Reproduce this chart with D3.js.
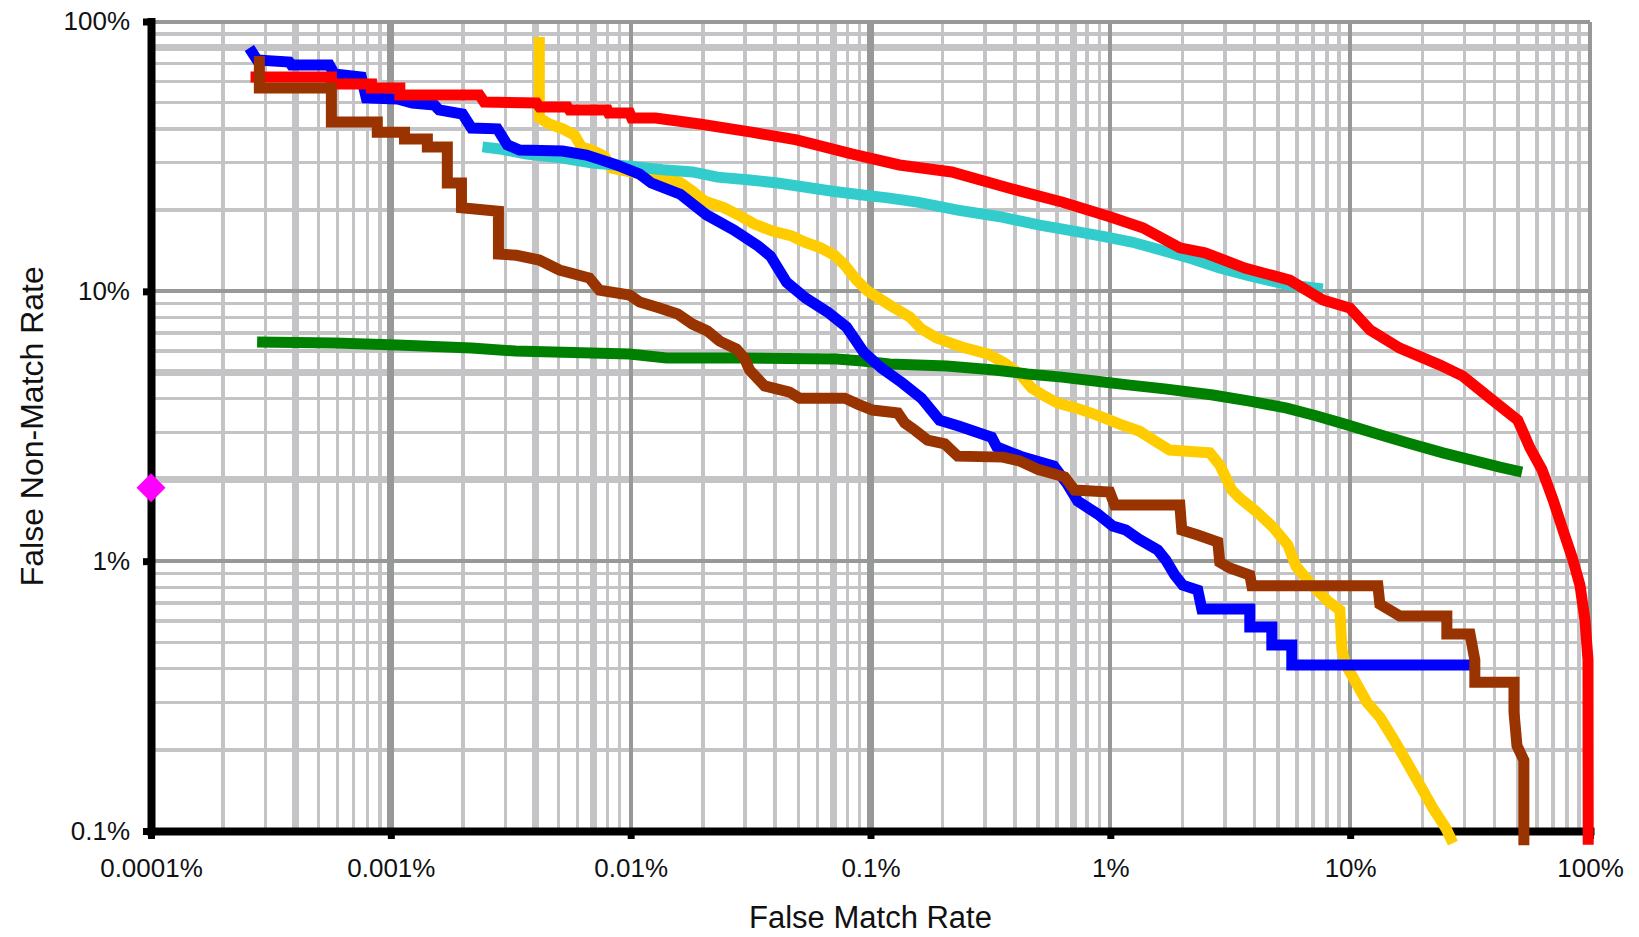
<!DOCTYPE html>
<html>
<head>
<meta charset="utf-8">
<script src="https://cdn.jsdelivr.net/npm/d3@7"></script>
<style>
  html, body { margin: 0; padding: 0; background: #fff; }
  svg { display: block; }
  text { font-family: "Liberation Sans", Arial, sans-serif; }
</style>
</head>
<body>
<script>
// values in percent
const xTicks = [1e-4, 1e-3, 1e-2, 1e-1, 1, 10, 100];
const xTickLabels = ["0.0001%", "0.001%", "0.01%", "0.1%", "1%", "10%", "100%"];
const yTicks = [0.1, 1, 10, 100];
const yTickLabels = ["0.1%", "1%", "10%", "100%"];

const redFmr = [0.00026, 0.000565, 0.000565, 0.00083, 0.00083, 0.00109, 0.00109, 0.00234, 0.00245, 0.00405, 0.00417, 0.00545, 0.00556, 0.0080, 0.0081, 0.0099, 0.0101, 0.0127, 0.0194, 0.0319, 0.0492, 0.0834, 0.132, 0.218, 0.38, 0.633, 0.995, 1.365, 1.949, 2.48, 3.64, 5.6, 7.69, 9.97, 12.1, 16.1, 23.7, 29.5, 38.3, 50.0, 56.2, 63.1, 70.2, 77.2, 84.2, 90.8, 95.3, 98.1, 98.3];
const redFnmr = [62.3, 62.3, 58.7, 58.7, 56.7, 56.7, 53.4, 53.4, 50.3, 49.9, 48.2, 48.2, 47.0, 47.0, 45.8, 45.8, 43.9, 43.9, 41.7, 38.9, 36.4, 32.3, 29.4, 27.7, 24.1, 21.4, 18.9, 17.2, 14.5, 13.9, 12.2, 11.0, 9.29, 8.67, 7.19, 6.16, 5.33, 4.85, 4.02, 3.33, 2.63, 2.18, 1.685, 1.30, 1.035, 0.815, 0.605, 0.43, 0.089];

const blueFmr = [0.000257, 0.000277, 0.000377, 0.000385, 0.000554, 0.000581, 0.000753, 0.00079, 0.001065, 0.00123, 0.00152, 0.00159, 0.00199, 0.00217, 0.00278, 0.00306, 0.00344, 0.0052, 0.00654, 0.00755, 0.00873, 0.0109, 0.0122, 0.0161, 0.0207, 0.0269, 0.0341, 0.0383, 0.0447, 0.0536, 0.0662, 0.0795, 0.0936, 0.111, 0.136, 0.163, 0.194, 0.233, 0.32, 0.336, 0.431, 0.581, 0.658, 0.731, 0.886, 1.023, 1.16, 1.314, 1.577, 1.702, 1.857, 2.005, 2.316, 2.406, 3.815, 3.815, 4.714, 4.714, 5.71, 5.71, 32.2];
const blueFnmr = [79.8, 72.0, 70.8, 69.0, 69.0, 63.9, 62.3, 52.1, 51.6, 49.9, 49.0, 47.0, 45.4, 40.3, 40.0, 34.9, 33.4, 33.1, 32.0, 30.7, 29.4, 27.2, 25.2, 22.9, 19.2, 16.9, 14.7, 13.5, 10.8, 9.45, 8.38, 7.37, 5.96, 5.20, 4.57, 4.02, 3.33, 3.17, 2.88, 2.65, 2.43, 2.25, 1.946, 1.67, 1.495, 1.349, 1.304, 1.207, 1.10, 1.01, 0.888, 0.815, 0.781, 0.665, 0.665, 0.57, 0.57, 0.489, 0.489, 0.412, 0.412];

const brownFmr = [0.000283, 0.000283, 0.000565, 0.000565, 0.000878, 0.000878, 0.00114, 0.00114, 0.00142, 0.00142, 0.00172, 0.00172, 0.00197, 0.00197, 0.00281, 0.00281, 0.00334, 0.00416, 0.00505, 0.00673, 0.00741, 0.00989, 0.0109, 0.0132, 0.0157, 0.0181, 0.0209, 0.0235, 0.0276, 0.0298, 0.0313, 0.0362, 0.046, 0.0506, 0.078, 0.0884, 0.102, 0.13, 0.139, 0.153, 0.173, 0.204, 0.231, 0.356, 0.419, 0.498, 0.645, 0.71, 0.994, 1.043, 1.949, 1.986, 2.316, 2.805, 2.86, 3.149, 3.815, 3.89, 13.05, 13.3, 16.1, 25.3, 25.3, 31.6, 33.1, 33.1, 48.2, 48.2, 49.6, 53.0, 53.0];
const brownFnmr = [74.5, 56.7, 56.7, 42.4, 42.4, 38.9, 38.9, 36.7, 36.7, 34.3, 34.3, 25.2, 25.2, 20.4, 19.8, 13.75, 13.6, 13.06, 12.0, 11.2, 10.1, 9.69, 9.13, 8.67, 8.24, 7.56, 7.13, 6.54, 6.11, 5.66, 5.11, 4.46, 4.23, 4.02, 4.02, 3.82, 3.63, 3.54, 3.25, 3.06, 2.81, 2.72, 2.45, 2.43, 2.35, 2.19, 2.05, 1.834, 1.803, 1.614, 1.614, 1.304, 1.25, 1.177, 0.992, 0.943, 0.888, 0.811, 0.811, 0.693, 0.626, 0.626, 0.537, 0.537, 0.43, 0.356, 0.356, 0.276, 0.207, 0.183, 0.0886];

const yellowFmr = [0.00416, 0.00416, 0.00458, 0.0052, 0.00583, 0.00623, 0.00686, 0.00778, 0.00832, 0.012, 0.016, 0.0181, 0.0203, 0.0246, 0.029, 0.0328, 0.039, 0.0469, 0.0531, 0.0619, 0.0708, 0.078, 0.0875, 0.0972, 0.12, 0.146, 0.163, 0.189, 0.24, 0.308, 0.363, 0.419, 0.47, 0.532, 0.603, 0.724, 0.903, 1.094, 1.326, 1.532, 1.769, 2.598, 2.86, 3.21, 3.465, 4.043, 4.76, 5.50, 5.94, 6.92, 8.07, 9.06, 9.24, 9.60, 10.26, 11.74, 13.3, 15.07, 17.24, 19.53, 22.13, 25.07, 26.82];
const yellowFnmr = [87.6, 43.9, 41.7, 40.0, 37.96, 34.3, 33.4, 31.7, 28.6, 26.8, 25.4, 23.5, 21.6, 20.4, 18.9, 17.76, 16.73, 16.03, 15.23, 14.5, 13.6, 12.52, 11.0, 10.03, 8.90, 8.03, 7.25, 6.71, 6.22, 5.86, 5.42, 4.94, 4.38, 4.09, 3.855, 3.69, 3.45, 3.22, 3.03, 2.79, 2.58, 2.52, 2.27, 1.834, 1.713, 1.533, 1.338, 1.147, 0.959, 0.815, 0.711, 0.659, 0.468, 0.412, 0.372, 0.30, 0.2644, 0.221, 0.180, 0.148, 0.1215, 0.1024, 0.0902];

const cyanFmr = [0.00241, 0.00284, 0.00368, 0.0052, 0.00693, 0.00989, 0.0136, 0.0181, 0.023, 0.0307, 0.041, 0.0521, 0.0695, 0.0927, 0.118, 0.157, 0.231, 0.346, 0.508, 0.633, 0.921, 1.228, 1.638, 2.186, 2.86, 3.815, 5.60, 7.69];
const cyanFnmr = [34.3, 33.7, 32.3, 31.2, 29.9, 29.1, 28.2, 27.7, 26.5, 25.9, 25.2, 24.4, 23.5, 22.75, 22.2, 21.4, 20.0, 18.9, 17.6, 17.0, 16.03, 15.23, 14.2, 13.2, 12.2, 11.4, 10.55, 10.2];

const greenFmr = [0.000277, 0.000581, 0.001065, 0.00217, 0.00331, 0.00989, 0.0141, 0.0284, 0.0722, 0.0927, 0.12, 0.208, 0.329, 0.452, 0.627, 0.861, 1.182, 1.687, 2.675, 3.815, 5.445, 7.26, 9.50, 12.68, 17.41, 24.36, 32.2, 42.1, 52.05];
const greenFnmr = [6.49, 6.43, 6.32, 6.16, 6.01, 5.86, 5.66, 5.66, 5.61, 5.52, 5.38, 5.29, 5.11, 4.94, 4.81, 4.65, 4.50, 4.35, 4.13, 3.92, 3.69, 3.45, 3.22, 2.98, 2.74, 2.52, 2.37, 2.23, 2.14];

const markerFmr = [0.0001];
const markerFnmr = [1.87];

const width = 1639
const height = 937
const margin = ({top: 21.5, right: 49, bottom: 106, left: 151})

// gridlines that came out heavier in the original picture
const heavyX = [4e-4, 1e-3, 4e-3, 7e-3, 7e-2, 1e-1, 0.7]
const heavyY = [80, 5, 2]

x = d3.scaleLog()
    .domain([1e-4, 100])
    .range([margin.left, width - margin.right])

y = d3.scaleLog()
    .domain([0.1, 100])
    .range([height - margin.bottom, margin.top])

const isMajor = v => Math.abs(Math.log10(v) - Math.round(Math.log10(v))) < 1e-6
const inList = (v, list) => list.some(b => Math.abs(v / b - 1) < 1e-6)

const svg = d3.select("body").append("svg")
    .attr("width", width)
    .attr("height", height)
    .attr("viewBox", [0, 0, width, height]);

// grid: light minor lines first, darker decade lines on top
const grid = svg.append("g").attr("shape-rendering", "crispEdges")
const gridPass = major => {
  grid.append("g").selectAll("line")
    .data(y.ticks().filter(d => isMajor(d) === major))
    .join("line")
      .attr("x1", x.range()[0]).attr("x2", x.range()[1])
      .attr("y1", d => y(d)).attr("y2", d => y(d))
      .attr("stroke", major ? "#979997" : "#c4c4c7")
      .attr("stroke-width", d => inList(d, heavyY) ? 7 : major ? 4 : 3.5)
  grid.append("g").selectAll("line")
    .data(x.ticks().filter(d => isMajor(d) === major))
    .join("line")
      .attr("x1", d => x(d)).attr("x2", d => x(d))
      .attr("y1", y.range()[1]).attr("y2", y.range()[0])
      .attr("stroke", major ? "#979997" : "#c4c4c7")
      .attr("stroke-width", d => inList(d, heavyX) ? 7 : major ? 4 : 3.5)
}
gridPass(false)
gridPass(true)

// axes
xAxis = g => g
    .attr("transform", `translate(0,${y.range()[0]})`)
    .call(d3.axisBottom(x).tickValues(xTicks).tickFormat((d, i) => xTickLabels[i])
      .tickSize(8).tickSizeOuter(0).tickPadding(20))

yAxis = g => g
    .attr("transform", `translate(${x.range()[0]},0)`)
    .call(d3.axisLeft(y).tickValues(yTicks).tickFormat((d, i) => yTickLabels[i])
      .tickSize(8).tickSizeOuter(0).tickPadding(13))

const styleAxis = g => {
  g.attr("color", "#000").attr("font-size", 26).attr("font-family", null)
  g.select(".domain").attr("stroke-width", 8).attr("stroke-linecap", "square")
  g.selectAll(".tick line").attr("stroke-width", 7)
  g.selectAll(".tick text").attr("fill", "#111")
}

svg.append("g").call(yAxis).call(styleAxis);
svg.append("g").call(xAxis).call(styleAxis);

// axis titles
svg.append("text")
    .attr("x", (x.range()[0] + x.range()[1]) / 2)
    .attr("y", 928)
    .attr("text-anchor", "middle")
    .attr("font-size", 31)
    .attr("fill", "#111")
    .text("False Match Rate");

svg.append("text")
    .attr("transform", `translate(43,${(y.range()[0] + y.range()[1]) / 2}) rotate(-90)`)
    .attr("text-anchor", "middle")
    .attr("font-size", 32)
    .attr("fill", "#111")
    .text("False Non-Match Rate");

// curves, bottom to top
const series = [
  {color: "#ffcc00", fmr: yellowFmr, fnmr: yellowFnmr},
  {color: "#33cccc", fmr: cyanFmr, fnmr: cyanFnmr},
  {color: "#008000", fmr: greenFmr, fnmr: greenFnmr},
  {color: "#0000ff", fmr: blueFmr, fnmr: blueFnmr},
  {color: "#ff0000", fmr: redFmr, fnmr: redFnmr},
  {color: "#993300", fmr: brownFmr, fnmr: brownFnmr}
]

const line = d3.line()
    .x(d => x(d[0]))
    .y(d => y(d[1]))

svg.append("g")
    .attr("fill", "none")
    .selectAll("path")
    .data(series)
    .join("path")
      .attr("d", s => line(d3.zip(s.fmr, s.fnmr)))
      .attr("stroke", s => s.color)
      .attr("stroke-width", 11)
      .attr("stroke-linejoin", "miter");

// single operating point on the left axis
svg.append("g").selectAll("path")
    .data(d3.zip(markerFmr, markerFnmr))
    .join("path")
      .attr("d", d3.symbol(d3.symbolSquare, 420))
      .attr("transform", d => `translate(${x(d[0])},${y(d[1])}) rotate(45)`)
      .attr("fill", "#ff00ff");
</script>
</body>
</html>
